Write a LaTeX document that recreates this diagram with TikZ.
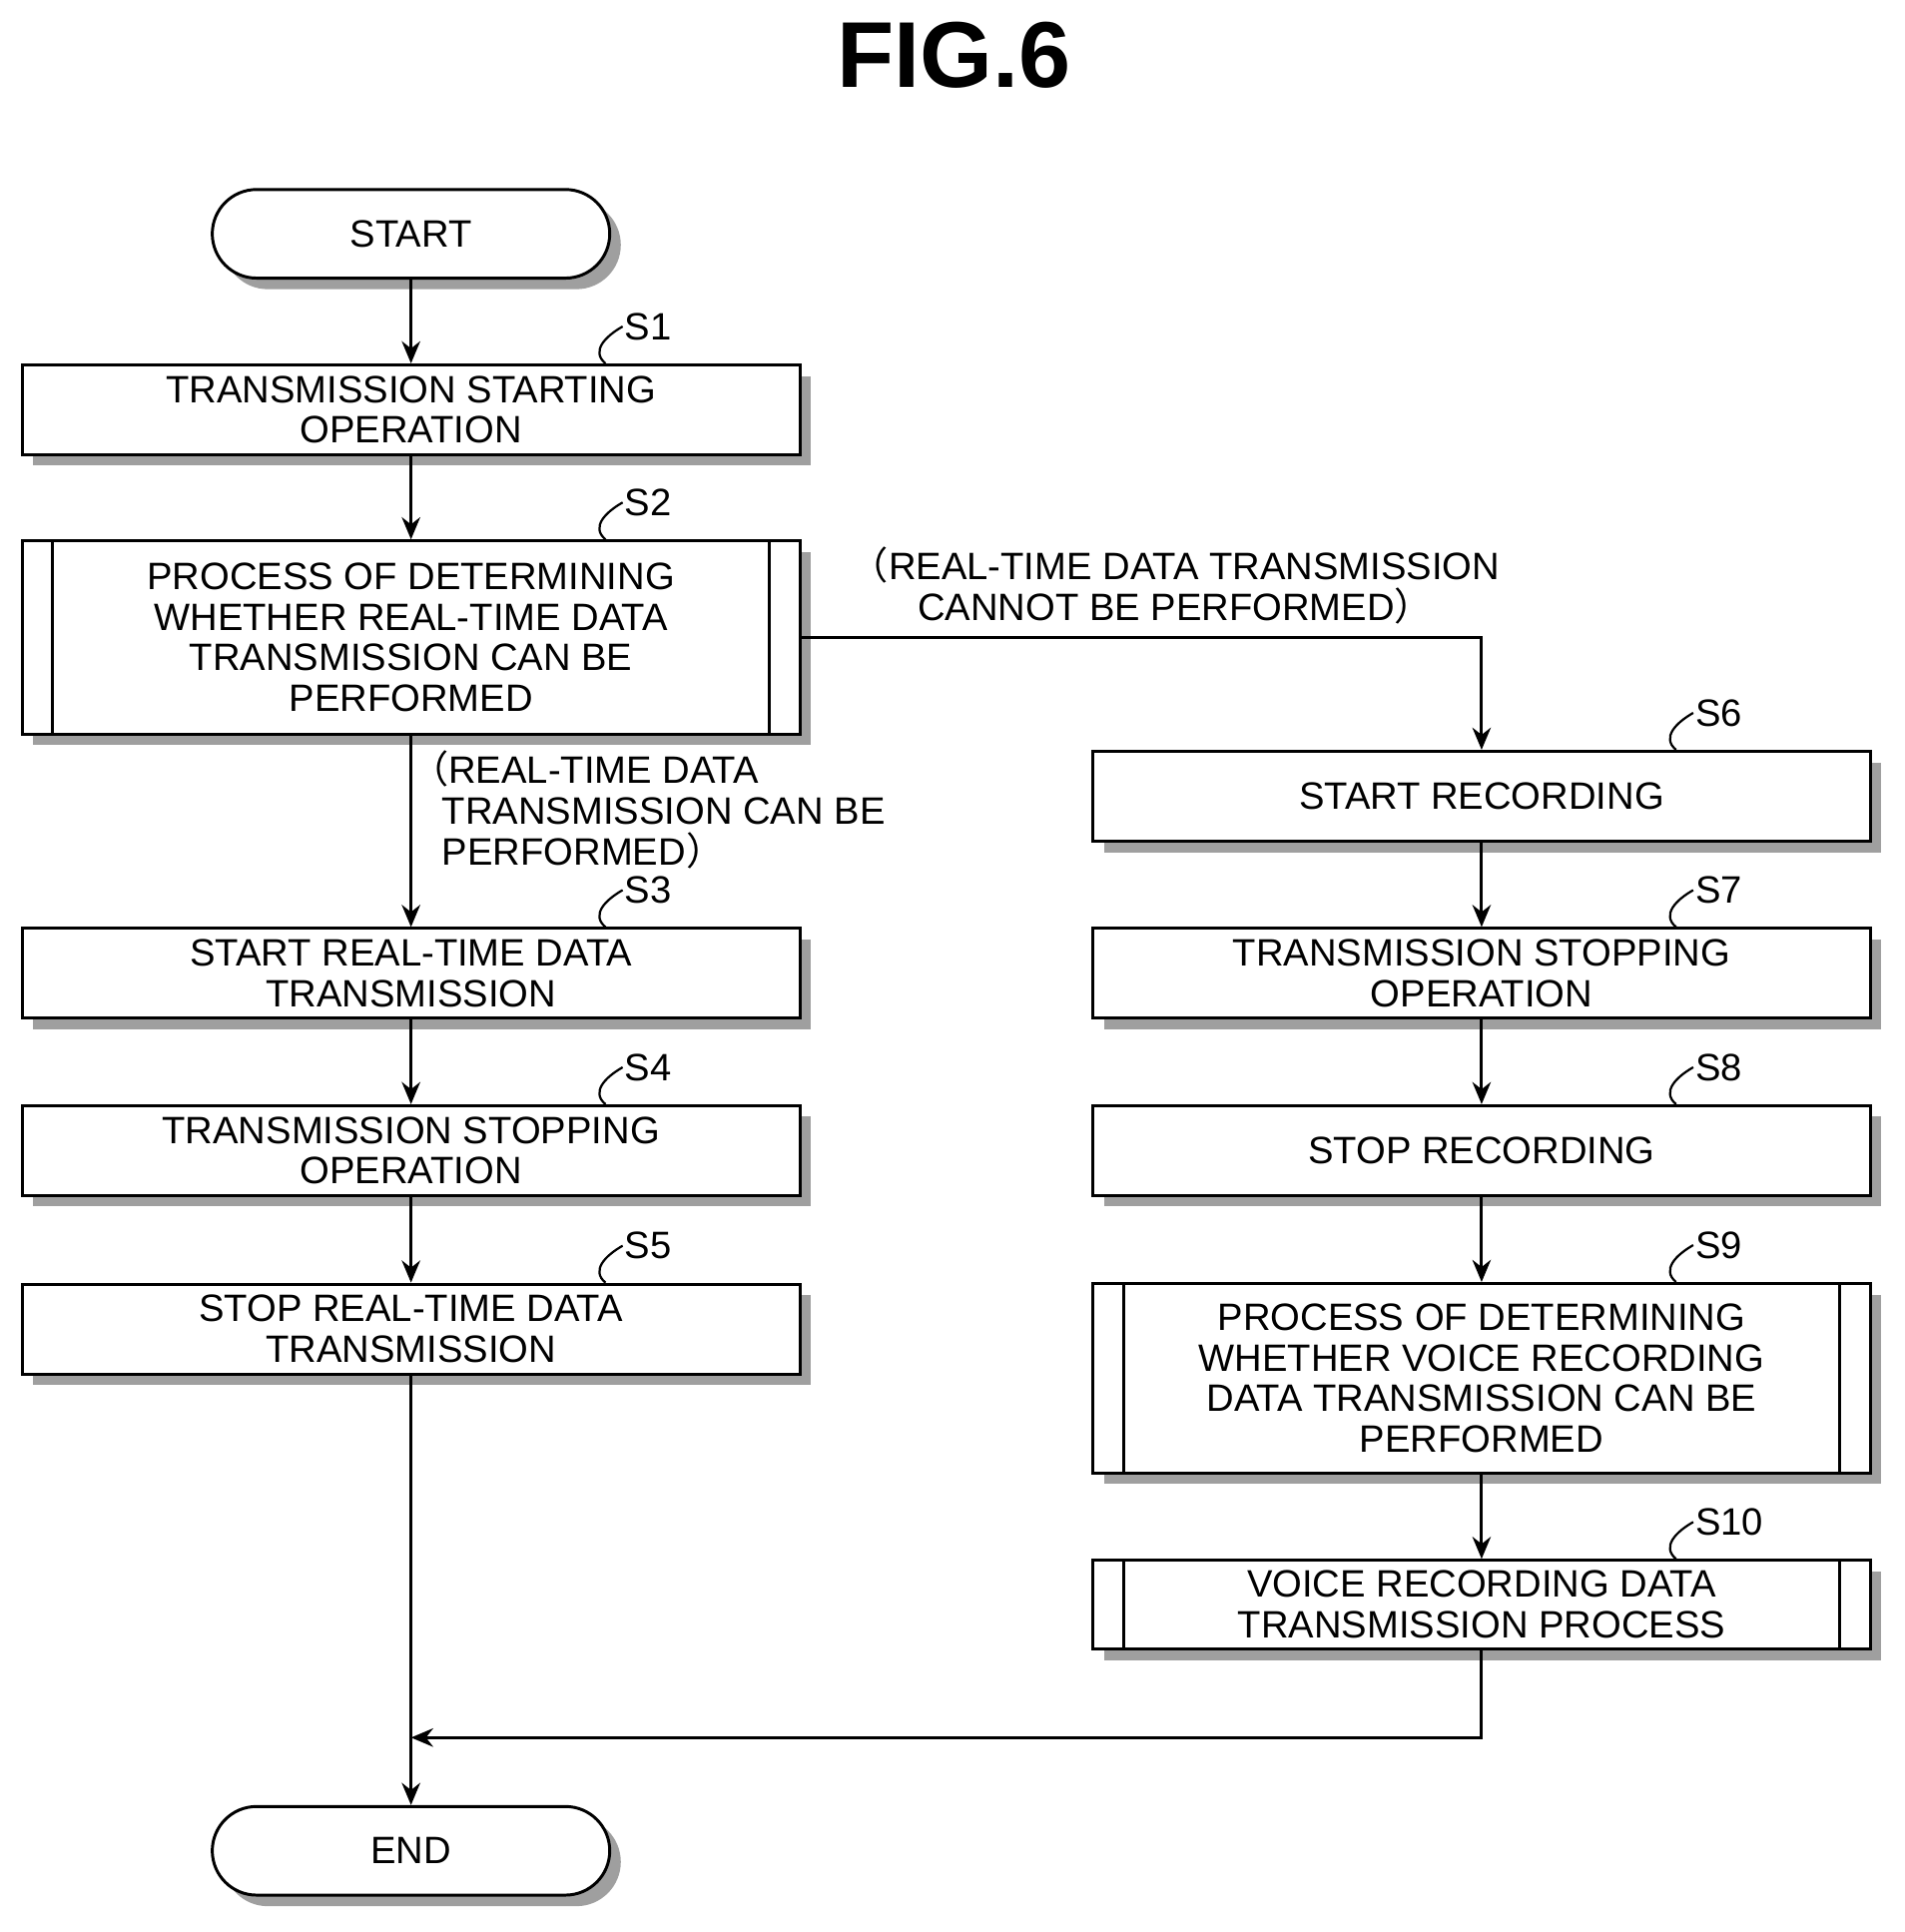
\documentclass[tikz,border=0pt]{standalone}
\usepackage{fontspec}
\setmainfont{Liberation Sans}
\newfontfamily\cjk{Noto Sans CJK SC}
\usetikzlibrary{shadows,arrows.meta,positioning}

\begin{document}
\begin{tikzpicture}[x=1pt,y=-1pt,
		font=\fontsize{31}{33}\selectfont,
		Box/.style={draw, line width=2.4pt, fill=white, minimum width=632pt, align=center, inner sep=0pt,
			drop shadow={shadow xshift=9pt, shadow yshift=-9pt, fill=gray!75, opacity=1}},
		Step/.style={Box, minimum height=73pt},
		Sub/.style={Box},
		Term/.style={Box, rounded corners=36pt, minimum width=323pt, minimum height=72pt},
		Flow/.style={line width=2.4pt, -{Stealth[length=18pt,width=15pt]}},
		Tag/.style={line width=1.8pt}]
	\useasboundingbox (0,0) rectangle (1548,1570);

	\node (title) at (775,45) {\fontsize{76}{76}\selectfont\bfseries FIG.6};

	% left column
	\node (start) at (334,190) [Term] {START};
	\node (s1) at (334,333) [Step] {TRANSMISSION STARTING\\OPERATION};
	\node (s2) at (334,518) [Sub, minimum height=157pt] {PROCESS OF DETERMINING\\WHETHER REAL-TIME DATA\\TRANSMISSION CAN BE\\PERFORMED};
	\node (s3) at (334,791) [Step] {START REAL-TIME DATA\\TRANSMISSION};
	\node (s4) at (334,935) [Step] {TRANSMISSION STOPPING\\OPERATION};
	\node (s5) at (334,1080) [Step] {STOP REAL-TIME DATA\\TRANSMISSION};
	\node (end) at (334,1504) [Term] {END};

	% right column
	\node (s6) at (1204,647) [Step] {START RECORDING};
	\node (s7) at (1204,791) [Step] {TRANSMISSION STOPPING\\OPERATION};
	\node (s8) at (1204,935) [Step] {STOP RECORDING};
	\node (s9) at (1204,1120) [Sub, minimum height=154pt] {PROCESS OF DETERMINING\\WHETHER VOICE RECORDING\\DATA TRANSMISSION CAN BE\\PERFORMED};
	\node (s10) at (1204,1304) [Sub, minimum height=72pt] {VOICE RECORDING DATA\\TRANSMISSION PROCESS};

	% sub-process side bars
	\foreach \n in {s2,s9,s10} {
		\draw [line width=2.4pt] ([xshift=26pt]\n.north west) -- ([xshift=26pt]\n.south west);
		\draw [line width=2.4pt] ([xshift=-26pt]\n.north east) -- ([xshift=-26pt]\n.south east);
	}

	% step tags
	\foreach \n/\t in {s1/S1,s2/S2,s3/S3,s4/S4,s5/S5,s6/S6,s7/S7,s8/S8,s9/S9,s10/S10} {
		\draw [Tag] ([xshift=158pt]\n.north) .. controls +(-12,-10) and +(-14,8) .. ([xshift=172pt,yshift=30pt]\n.north)
			node [anchor=west, inner sep=1pt] {\t};
	}

	\coordinate (c1) at (1204,518);
	\coordinate (m1) at (1204,1412);
	\coordinate (m2) at (334,1412);

	\draw [Flow] (start) -- (s1);
	\draw [Flow] (s1) -- (s2);
	\draw [Flow] (s2) -- (s3);
	\draw [Flow] (s3) -- (s4);
	\draw [Flow] (s4) -- (s5);
	\draw [line width=2.4pt] (s5) -- (m2);
	\draw [Flow] (m2) -- (end);
	\draw [Flow] (s2.east) -- (c1) -- (s6);
	\draw [Flow] (s6) -- (s7);
	\draw [Flow] (s7) -- (s8);
	\draw [Flow] (s8) -- (s9);
	\draw [Flow] (s9) -- (s10);
	\draw [Flow] (s10) -- (m1) -- (m2);

	\node (lyes) at (330,658) [anchor=west, align=left] {{\cjk （}REAL-TIME DATA\\\ \ \ TRANSMISSION CAN BE\\\ \ \ PERFORMED{\cjk ）}};
	\node (lno) at (955,476) [align=center] {{\cjk （}REAL-TIME DATA TRANSMISSION\\CANNOT BE PERFORMED{\cjk ）}};
\end{tikzpicture}
\end{document}
